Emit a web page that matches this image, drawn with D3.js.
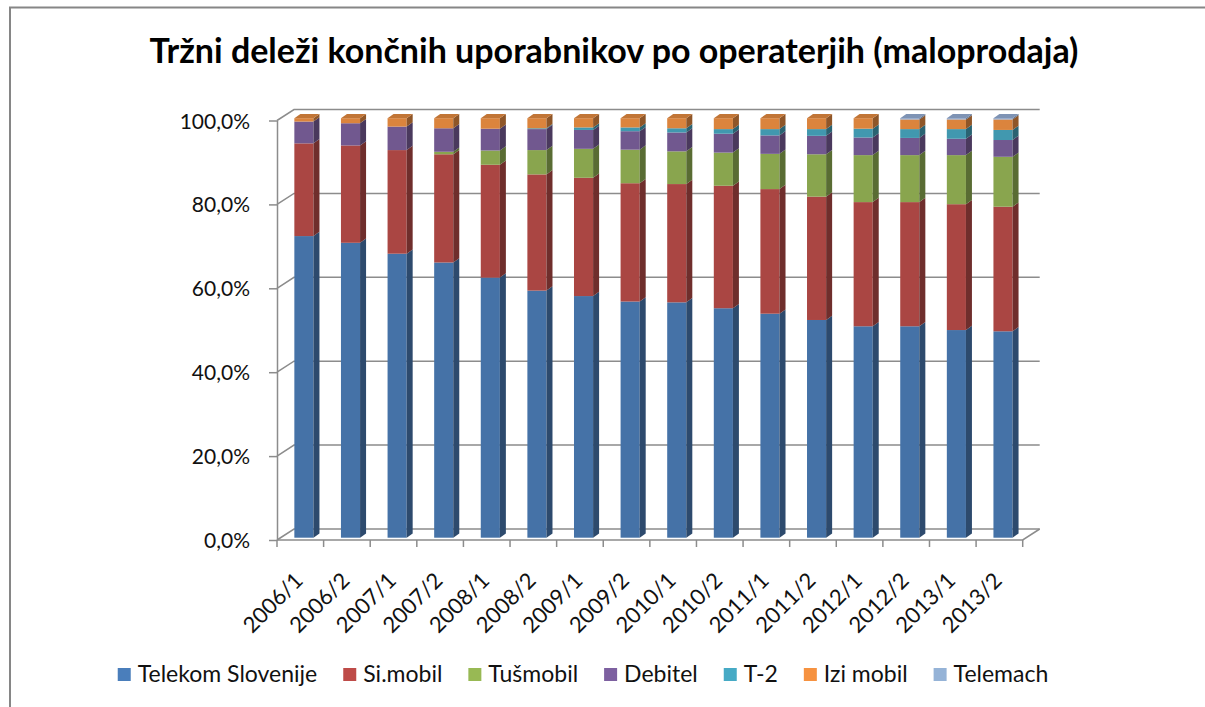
<!DOCTYPE html>
<html lang="sl">
<head>
<meta charset="utf-8">
<title>Tržni deleži končnih uporabnikov</title>
<script src="https://d3js.org/d3.v7.min.js"></script>
<style>
  body { margin: 0; background: #fff; }
  text { font-family: Lato, "Open Sans", sans-serif; }
</style>
</head>
<body>
<script>
// data (share in %)
const categories = ["2006/1","2006/2","2007/1","2007/2","2008/1","2008/2","2009/1","2009/2",
                    "2010/1","2010/2","2011/1","2011/2","2012/1","2012/2","2013/1","2013/2"];
const seriesNames = ["Telekom Slovenije","Si.mobil","Tušmobil","Debitel","T-2","Izi mobil","Telemach"];
const telekom  = [71.9,70.3,67.7,65.6,62.0,58.9,57.6,56.3,56.1,54.7,53.4,51.9,50.4,50.4,49.5,49.2];
const simobil  = [22.1,23.2,24.7,25.8,26.9,27.7,28.2,28.2,28.2,29.2,29.7,29.4,29.6,29.6,30.0,29.7];
const tusmobil = [0,0,0,0.6,3.4,5.8,6.9,8.0,7.8,7.9,8.4,10.1,11.2,11.2,11.7,11.9];
const debitel  = [5.2,5.3,5.6,5.6,5.2,5.0,4.5,4.4,4.5,4.5,4.4,4.4,4.2,4.1,3.9,4.0];
const t2       = [0,0,0,0,0,0.2,0.6,0.9,1.0,1.1,1.5,1.6,2.1,2.1,2.3,2.4];
const izimobil = [0.8,1.2,2.0,2.4,2.5,2.4,2.2,2.2,2.4,2.6,2.6,2.6,2.5,2.3,2.3,2.5];
const telemach = [0,0,0,0,0,0,0,0,0,0,0,0,0,0.3,0.3,0.3];
const yTicks = [0,20,40,60,80,100];

const frontColors  = ["#4572A7","#AA4643","#89A54E","#71588F","#4198AF","#DB843D","#8FA6CC"];
const legendColors = ["#4A7EBB","#BE4B48","#98B954","#7D60A0","#46AAC5","#F69240","#95B3D7"];

const w = 1205, h = 707;
const svg = d3.select("body").append("svg").attr("width", w).attr("height", h);

// chart border
svg.append("path")
  .attr("d", "M10,707 L10,7.5 L1205,7.5")
  .attr("fill", "none").attr("stroke", "#868686").attr("stroke-width", 2);

svg.append("text")
  .attr("x", 614).attr("y", 63)
  .attr("text-anchor", "middle")
  .attr("font-size", 34).attr("font-weight", "bold")
  .text("Tržni deleži končnih uporabnikov po operaterjih (maloprodaja)");

// 3d geometry
const wallDx = 17, wallDy = -11;     // depth of floor / side wall
const x = d3.scaleBand().domain(categories).range([277, 1022.7])
  .paddingInner(0.59).paddingOuter(0.295);
const y = d3.scaleLinear().domain([0, 100]).range([540, 120.5]);
const barShift = {dx: 3.6, dy: -2.3}; // bars sit a bit into the depth
const barDx = 6, barDy = -4.3;        // bar depth

const gridColor = "#8c8c8c";
const grid = svg.append("g").attr("stroke", gridColor).attr("stroke-width", 1.5).attr("fill", "none");

// gridlines: side wall diagonal + back wall
yTicks.forEach(t => {
  const yy = y(t);
  grid.append("path")
    .attr("d", `M${x.range()[0]},${yy} L${x.range()[0] + wallDx},${yy + wallDy} L${x.range()[1] + wallDx},${yy + wallDy}`);
});
// floor front edge + right edge
grid.append("path")
  .attr("d", `M${x.range()[0]},${y(0)} L${x.range()[1]},${y(0)} L${x.range()[1] + wallDx},${y(0) + wallDy}`);

// y axis
const yAxis = svg.append("g")
  .attr("transform", `translate(${x.range()[0]},0)`)
  .call(d3.axisLeft(y).tickValues(yTicks).tickSize(8).tickSizeOuter(0).tickPadding(19)
    .tickFormat(d => d3.format(".1f")(d).replace(".", ",") + "%"));
yAxis.select(".domain").attr("stroke", gridColor).attr("stroke-width", 1.5);
yAxis.selectAll(".tick line").attr("stroke", gridColor).attr("stroke-width", 1.5);
yAxis.selectAll(".tick text").attr("font-size", 21).attr("fill", "#111")
  .style("font-family", "Lato, sans-serif").attr("dy", "0.36em");

// x axis: ticks on band boundaries, rotated labels
const xAxis = svg.append("g").attr("transform", `translate(0,${y(0)})`);
d3.range(categories.length + 1).forEach(i => {
  const xx = x.range()[0] + i * x.step();
  xAxis.append("line").attr("x1", xx).attr("x2", xx).attr("y1", 0).attr("y2", 7)
    .attr("stroke", gridColor).attr("stroke-width", 1.5);
});
xAxis.selectAll("text.cat").data(categories).enter().append("text")
  .attr("class", "cat")
  .attr("transform", d => `translate(${x(d) + x.bandwidth() / 2 + 4},42) rotate(-45)`)
  .attr("text-anchor", "end")
  .attr("font-size", 22).attr("fill", "#111")
  .text(d => d);

// stacked bars
const rows = categories.map((c, i) => ({
  cat: c, s0: telekom[i], s1: simobil[i], s2: tusmobil[i], s3: debitel[i],
  s4: t2[i], s5: izimobil[i], s6: telemach[i]
}));
const keys = ["s0","s1","s2","s3","s4","s5","s6"];
const stacked = d3.stack().keys(keys)(rows);

const bars = svg.append("g");
categories.forEach((c, i) => {
  const g = bars.append("g");
  const x0 = x(c) + barShift.dx, x1 = x0 + x.bandwidth();
  let topIdx = -1;
  stacked.forEach((s, k) => { if (s[i][1] - s[i][0] > 0) topIdx = k; });
  stacked.forEach((s, k) => {
    const v0 = s[i][0], v1 = s[i][1];
    if (v1 - v0 <= 0) return;
    const yb = y(v0) + barShift.dy, yt = y(v1) + barShift.dy;
    const col = d3.color(frontColors[k]);
    g.append("rect")
      .attr("x", x0).attr("y", yt).attr("width", x1 - x0).attr("height", yb - yt)
      .attr("fill", col);
    g.append("path")
      .attr("d", `M${x1},${yb} L${x1 + barDx},${yb + barDy} L${x1 + barDx},${yt + barDy} L${x1},${yt}Z`)
      .attr("fill", col.darker(1.2));
    if (k === topIdx) {
      g.append("path")
        .attr("d", `M${x0},${yt} L${x1},${yt} L${x1 + barDx},${yt + barDy} L${x0 + barDx},${yt + barDy}Z`)
        .attr("fill", col.darker(0.35));
    }
  });
});

// legend
const legend = svg.append("g").attr("transform", "translate(0,682)");
const items = legend.selectAll("g").data(seriesNames).enter().append("g");
items.append("rect").attr("x", 0).attr("y", -14).attr("width", 13).attr("height", 13)
  .attr("fill", (d, i) => legendColors[i]);
items.append("text").attr("x", 20).attr("y", 0).attr("font-size", 23).attr("fill", "#111")
  .text(d => d);
const widths = [];
items.each(function () { widths.push(this.getBBox().width); });
const gap = 26;
const total = d3.sum(widths) + gap * (widths.length - 1);
let lx = 583 - total / 2;
items.attr("transform", (d, i) => {
  const t = `translate(${lx},0)`;
  lx += widths[i] + gap;
  return t;
});
</script>
</body>
</html>
